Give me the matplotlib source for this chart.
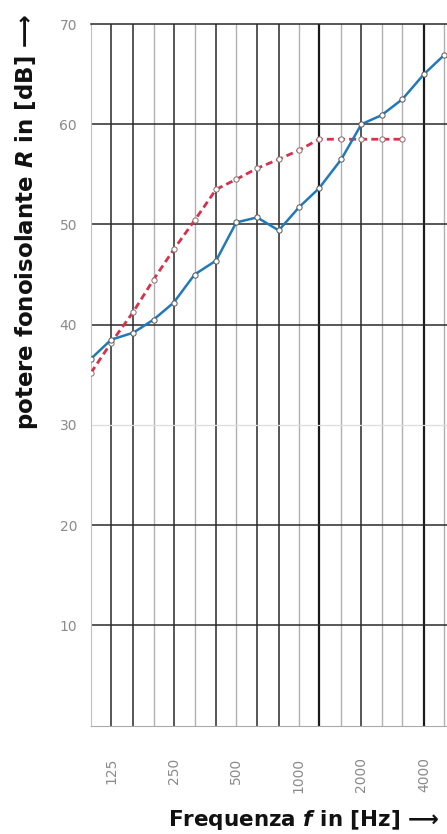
import numpy as np
import matplotlib.pyplot as plt
from matplotlib.ticker import NullLocator

plt.rcParams['mathtext.fontset'] = 'custom'
plt.rcParams['mathtext.bf'] = 'DejaVu Sans:bold:italic'

# bande di terzo d'ottava
freqs = [100, 125, 160, 200, 250, 315, 400, 500, 630, 800, 1000,
         1250, 1600, 2000, 2500, 3150, 4000, 5000]
# curva misurata (blu)
r_blue = [36.6, 38.5, 39.2, 40.5, 42.2, 45.0, 46.4, 50.2, 50.7, 49.4, 51.7,
          53.6, 56.5, 60.0, 60.9, 62.5, 65.0, 66.9]
# curva di riferimento (rossa tratteggiata), fino a 3150 Hz
freqs_ref = freqs[:16]
r_red = [35.2, 38.2, 41.3, 44.5, 47.5, 50.4, 53.5, 54.5, 55.6, 56.5, 57.4,
         58.5, 58.5, 58.5, 58.5, 58.5]

xticks = [125, 250, 500, 1000, 2000, 4000]
xticklabels = ['125', '250', '500', '1000', '2000', '4000']
yticks = [10, 20, 30, 40, 50, 60, 70]

# spessore delle linee verticali della griglia
dark = [125, 160, 250, 400, 630, 800, 2000]
thick = [1250, 4000]

W, H = 447, 834
fig = plt.figure(figsize=(W / 100, H / 100), dpi=100)
ax = fig.add_axes([91 / W, (H - 725.5) / H, 374 / W, 701.5 / H])

ax.set_xscale('log')
ax.set_xlim(100, 6300)
ax.set_ylim(0, 70)

for f in freqs[1:]:
    if f in thick:
        ax.axvline(f, color='#1a1a1a', lw=1.6, zorder=1)
    elif f in dark:
        ax.axvline(f, color='#3a3a3a', lw=1.2, zorder=1)
    else:
        ax.axvline(f, color='#b0b0b0', lw=1.0, zorder=1)

for v in yticks[:-1]:
    if v == 30:
        ax.axhline(v, color='#dddddd', lw=0.9, zorder=1)
    else:
        ax.axhline(v, color='#2a2a2a', lw=1.1, zorder=1)

ax.plot(freqs_ref, r_red, color='#d8304a', lw=2.0, dashes=(2.5, 1.5),
        marker='o', ms=3.8, mfc='white', mec='#8a6a6a', mew=0.7, zorder=3)
ax.plot(freqs, r_blue, color='#2179b9', lw=1.8,
        marker='o', ms=3.8, mfc='white', mec='#555555', mew=0.7, zorder=4)

ax.xaxis.set_minor_locator(NullLocator())
ax.set_xticks(xticks)
ax.set_xticklabels(xticklabels, rotation=90)
ax.set_yticks(yticks)
ax.tick_params(length=0, labelcolor='#8a8a8a', labelsize=10)
ax.tick_params(axis='x', pad=23)
ax.tick_params(axis='y', pad=10)

ax.spines['top'].set_color('#2a2a2a')
ax.spines['top'].set_linewidth(1.1)
ax.spines['bottom'].set_color('#aaaaaa')
ax.spines['left'].set_color('#c0c0c0')
ax.spines['right'].set_visible(False)

fig.text(27 / W, 1 - 14 / H, 'potere fonoisolante $\\mathbf{R}$ in [dB] \u27f6',
         rotation=90, ha='center', va='top', fontsize=16.5, fontweight='bold',
         color='#111111')
fig.text(168 / W, (H - 826) / H, 'Frequenza $\\mathbf{f}$ in [Hz] \u27f6',
         ha='left', va='baseline', fontsize=15.5, fontweight='bold',
         color='#111111')

fig.savefig('out.png', dpi=100)
